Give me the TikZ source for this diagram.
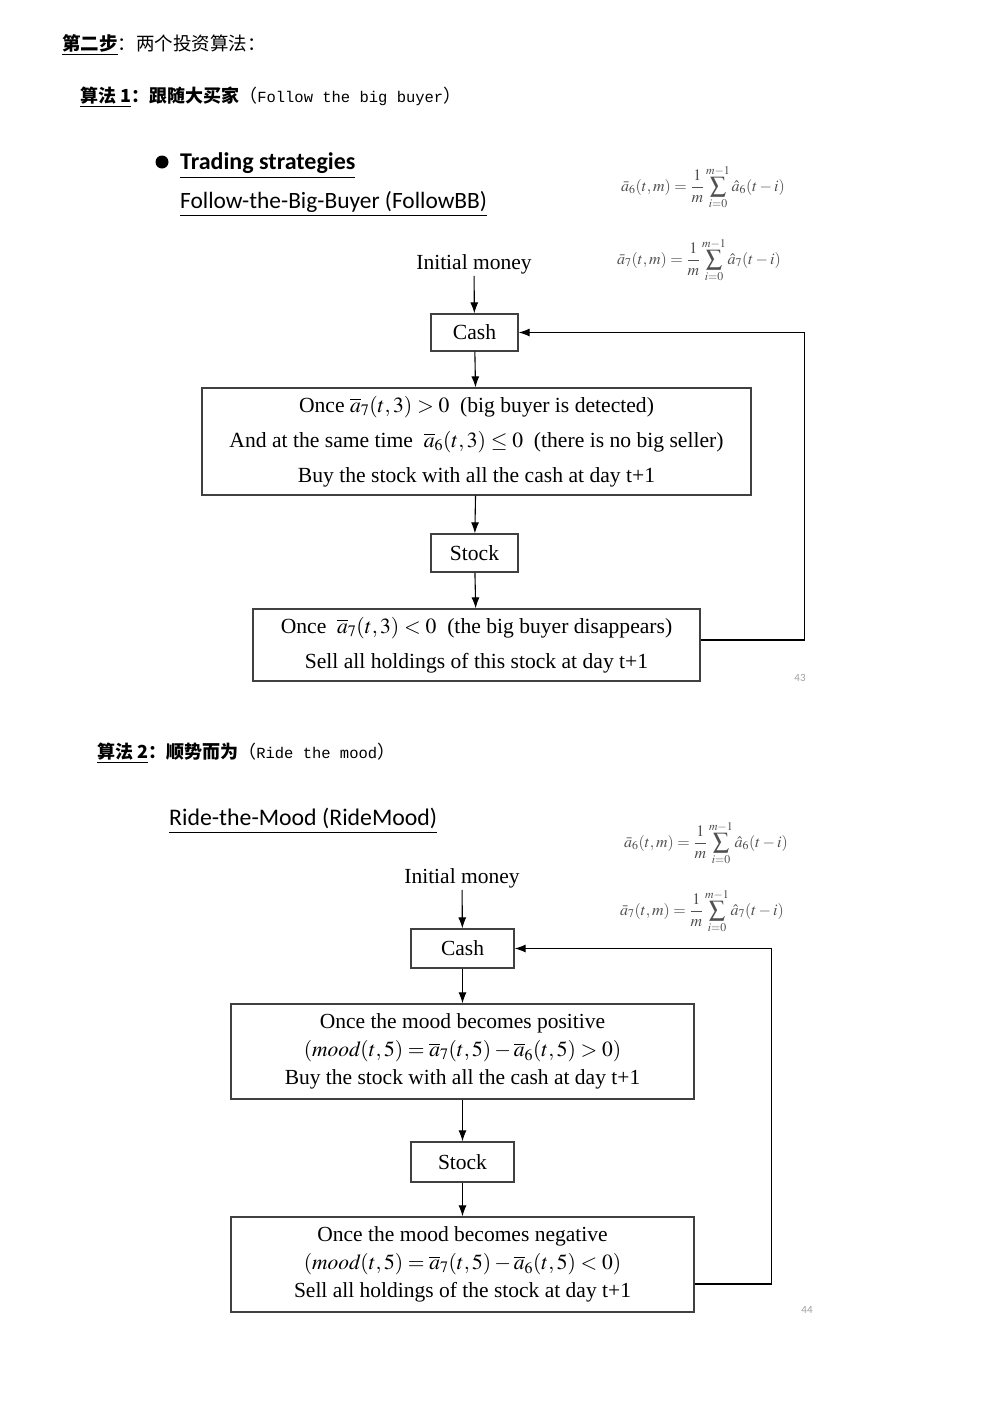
\documentclass[tikz,border=0pt]{standalone}
\usepackage{amsmath}
\usepackage{mathptmx}
\usepackage{fontspec}
\setmainfont{Liberation Serif}
\newfontfamily\cjk{Noto Sans CJK SC}
\newfontfamily\calibri{Carlito}
\newfontfamily\mono{Liberation Mono}
\usetikzlibrary{arrows.meta}
\definecolor{boxgray}{HTML}{404040}
\definecolor{formgray}{HTML}{505050}
\definecolor{numgray}{HTML}{A0A0A0}
\tikzset{
  boxa/.style={draw=boxgray, line width=1.2pt, inner sep=0pt, align=center,
    font=\fontsize{21.6}{35}\selectfont},
  boxb/.style={draw=boxgray, line width=1.2pt, inner sep=0pt, align=center,
    font=\fontsize{21.5}{28}\selectfont},
  lbl/.style={inner sep=2pt, font=\fontsize{21.5}{24}\selectfont},
  arr/.style={draw=black, line width=1.1pt, -{Latex[length=11pt,width=8pt]}},
  head/.style={anchor=west, inner sep=0pt},
  formula/.style={text=formgray, inner sep=0pt, font=\fontsize{16}{18}\selectfont},
  slnum/.style={text=numgray, inner sep=0pt, font=\calibri\fontsize{11}{12}\selectfont}
}
\begin{document}
\begin{tikzpicture}[x=1pt,y=-1pt]
\useasboundingbox[fill=white] (0,0) rectangle (992,1403);

% ---------- headers ----------
\node[head, font=\cjk\fontsize{18.5}{20}\selectfont] (h1) at (62,45)
  {\underline{\bfseries 第二步}：两个投资算法：};
\node[head, font=\cjk\fontsize{18}{20}\selectfont] (h2) at (80,97)
  {\bfseries\underline{算法 1}：跟随大买家\mdseries（{\mono\fontsize{15.5}{18}\selectfont Follow the big buyer}）};

\node[circle, fill=black, minimum size=13pt, inner sep=0pt] (bul) at (162,162) {};
\node[head, font=\calibri\bfseries\fontsize{24}{26}\selectfont] (ts) at (180,166)
  {\underline{Trading strategies}};
\node[head, font=\calibri\fontsize{23.4}{26}\selectfont] (fbb) at (180,204)
  {\underline{Follow-the-Big-Buyer (FollowBB)}};

\node[formula] (f1a) at (703,187)
  {$\bar{a}_6(t,m)=\dfrac{1}{m}\displaystyle\sum_{i=0}^{m-1}\hat{a}_6(t-i)$};
\node[formula] (f1b) at (699,260)
  {$\bar{a}_7(t,m)=\dfrac{1}{m}\displaystyle\sum_{i=0}^{m-1}\hat{a}_7(t-i)$};

% ---------- flowchart 1 ----------
\node[lbl] (init1) at (474,264) {Initial money};
\node[boxa, minimum width=87pt, minimum height=37pt] (cash1) at (474.5,332.5) {Cash};
\node[boxa, minimum width=549pt, minimum height=107pt] (cond1) at (476.5,441.5)
  {Once $\overline{a}_7(t,3)>0$\ \ (big buyer is detected)\\
   And at the same time\ \ $\overline{a}_6(t,3)\le 0$\ \ (there is no big seller)\\
   Buy the stock with all the cash at day t+1};
\node[boxa, minimum width=87pt, minimum height=38pt] (stock1) at (474.5,553) {Stock};
\node[boxa, minimum width=447pt, minimum height=72pt] (sell1) at (476.5,645)
  {Once\ \ $\overline{a}_7(t,3)<0$\ \ (the big buyer disappears)\\
   Sell all holdings of this stock at day t+1};
\node[slnum] (n43) at (800,678) {43};

\draw[arr] (init1) -- (cash1);
\draw[arr] (cash1) -- (cond1);
\draw[arr] (cond1) -- (stock1);
\draw[arr] (stock1) -- (sell1);
\draw[arr] ([yshift=5pt]sell1.east) -- ++(104,0) |- (cash1.east);

% ---------- section 2 ----------
\node[head, font=\cjk\fontsize{18}{20}\selectfont] (h3) at (97,753)
  {\bfseries\underline{算法 2}：顺势而为\mdseries（{\mono\fontsize{15.5}{18}\selectfont Ride the mood}）};
\node[head, font=\calibri\fontsize{23.8}{26}\selectfont] (rm) at (169,821)
  {\underline{Ride-the-Mood (RideMood)}};

\node[formula] (f2a) at (706,843)
  {$\bar{a}_6(t,m)=\dfrac{1}{m}\displaystyle\sum_{i=0}^{m-1}\hat{a}_6(t-i)$};
\node[formula] (f2b) at (702,911)
  {$\bar{a}_7(t,m)=\dfrac{1}{m}\displaystyle\sum_{i=0}^{m-1}\hat{a}_7(t-i)$};

% ---------- flowchart 2 ----------
\node[lbl] (init2) at (462,878) {Initial money};
\node[boxb, minimum width=103pt, minimum height=39pt] (cash2) at (462.5,948.5) {Cash};
\node[boxb, minimum width=463pt, minimum height=95pt] (cond2) at (462.5,1051.5)
  {Once the mood becomes positive\\
   $(\mathit{mood}(t,5)=\overline{a}_7(t,5)-\overline{a}_6(t,5)>0)$\\
   Buy the stock with all the cash at day t+1};
\node[boxb, minimum width=103pt, minimum height=40pt] (stock2) at (462.5,1162) {Stock};
\node[boxb, minimum width=463pt, minimum height=95pt] (sell2) at (462.5,1264.5)
  {Once the mood becomes negative\\
   $(\mathit{mood}(t,5)=\overline{a}_7(t,5)-\overline{a}_6(t,5)<0)$\\
   Sell all holdings of the stock at day t+1};
\node[slnum] (n44) at (807,1310) {44};

\draw[arr] (init2) -- (cash2);
\draw[arr] (cash2) -- (cond2);
\draw[arr] (cond2) -- (stock2);
\draw[arr] (stock2) -- (sell2);
\draw[arr] ([yshift=-19.5pt]sell2.east) -- ++(77,0) |- (cash2.east);
\end{tikzpicture}
\end{document}
